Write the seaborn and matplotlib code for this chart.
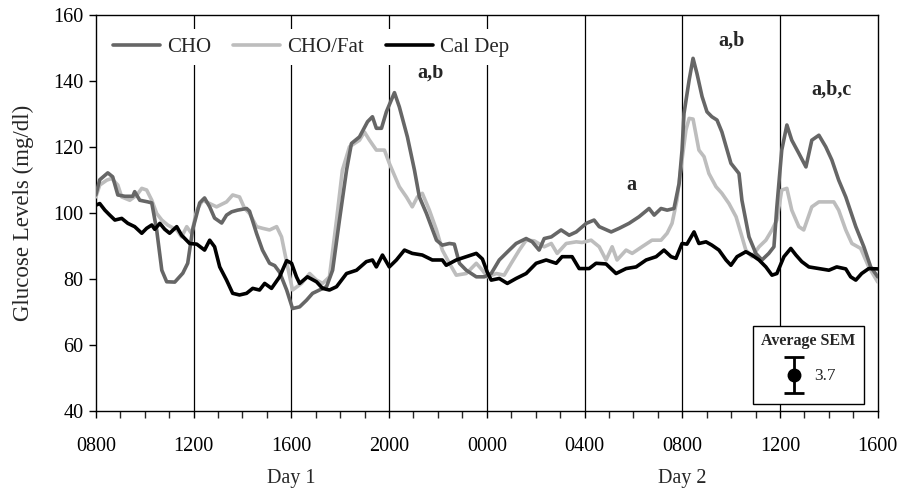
import matplotlib
matplotlib.use("Agg")
import matplotlib.pyplot as plt
import seaborn as sns
import pandas as pd
import numpy as np
from matplotlib.patches import Rectangle

# ---- data (hours after 0800 on Day 1, glucose mg/dl) ----
cho_t = [0.00, 0.16, 0.49, 0.69, 0.90, 1.19, 1.51, 1.59, 1.80, 2.13, 2.29, 2.49, 2.70, 2.90, 3.23,
         3.56, 3.76, 3.96, 4.25, 4.45, 4.66, 4.86, 5.15, 5.35, 5.56, 5.80, 6.17, 6.29, 6.58, 6.82,
         7.11, 7.32, 7.52, 7.81, 8.05, 8.34, 8.62, 8.87, 9.15, 9.44, 9.69, 9.97, 10.26, 10.46,
         10.79, 11.12, 11.32, 11.48, 11.69, 11.89, 12.22, 12.42, 12.75, 13.04, 13.24, 13.53,
         13.94, 14.18, 14.47, 14.67, 14.88, 15.16, 15.57, 15.90, 16.18, 16.51, 16.92, 17.20,
         17.61, 17.86, 18.14, 18.35, 18.64, 19.04, 19.37, 19.66, 20.07, 20.39, 20.60, 21.09,
         21.42, 21.82, 22.23, 22.64, 22.85, 23.13, 23.38, 23.66, 23.87, 23.99, 24.07, 24.28,
         24.44, 24.60, 24.81, 25.01, 25.21, 25.42, 25.62, 25.99, 26.32, 26.44, 26.73, 27.01,
         27.26, 27.54, 27.75, 27.87, 28.07, 28.28, 28.48, 28.77, 29.06, 29.30, 29.59, 29.87,
         30.12, 30.40, 30.69, 31.10, 31.43, 31.71, 32.00]
cho_v = [105.4, 110.0, 112.1, 110.9, 105.4, 105.0, 105.0, 106.4, 103.8, 103.3, 103.0, 94.8, 82.6,
         79.1, 79.0, 81.7, 84.7, 94.8, 103.0, 104.5, 101.8, 98.4, 96.9, 99.3, 100.3, 100.8, 101.3,
         100.5, 93.7, 88.7, 84.7, 84.0, 82.0, 76.6, 71.0, 71.5, 73.5, 75.6, 76.6, 77.6, 82.6, 97.8,
         112.9, 121.0, 123.0, 127.6, 129.1, 125.6, 125.6, 130.6, 136.4, 132.1, 123.0, 112.9, 104.8,
         99.8, 91.7, 90.2, 90.7, 90.5, 84.7, 82.6, 80.6, 80.6, 81.6, 85.7, 88.7, 90.7, 92.2, 91.2,
         88.7, 92.2, 92.7, 94.8, 93.2, 94.2, 96.8, 97.8, 95.8, 94.2, 95.3, 96.8, 98.8, 101.3, 99.3,
         101.3, 100.8, 101.3, 108.9, 119.0, 130.1, 140.2, 146.8, 142.2, 135.2, 130.6, 129.1, 128.1,
         124.5, 115.0, 111.9, 103.8, 92.7, 87.7, 85.7, 87.7, 89.7, 101.8, 119.0, 126.6, 122.0,
         118.0, 113.9, 122.0, 123.5, 120.0, 116.0, 109.9, 104.8, 95.8, 89.7, 83.6, 80.6]

fat_t = [0.00, 0.16, 0.45, 0.65, 0.90, 1.06, 1.39, 1.68, 1.88, 2.08, 2.29, 2.49, 2.70, 2.94, 3.31,
         3.51, 3.72, 3.92, 4.13, 4.37, 4.66, 4.94, 5.35, 5.60, 5.88, 6.09, 6.29, 6.58, 6.82, 7.11,
         7.40, 7.60, 7.81, 8.05, 8.42, 8.75, 9.03, 9.28, 9.56, 9.85, 10.09, 10.38, 10.79, 10.99,
         11.20, 11.48, 11.81, 12.01, 12.42, 12.71, 12.95, 13.16, 13.36, 13.65, 13.94, 14.18,
         14.47, 14.75, 15.16, 15.57, 15.82, 16.02, 16.39, 16.71, 17.00, 17.33, 17.61, 17.94,
         18.35, 18.64, 18.88, 19.25, 19.66, 19.90, 20.27, 20.60, 20.88, 21.13, 21.33, 21.70,
         21.95, 22.35, 22.76, 23.13, 23.38, 23.58, 23.78, 23.95, 24.15, 24.28, 24.44, 24.68,
         24.89, 25.09, 25.38, 25.62, 25.91, 26.20, 26.40, 26.60, 26.85, 27.14, 27.42, 27.67,
         27.87, 28.07, 28.28, 28.48, 28.77, 28.97, 29.30, 29.59, 30.20, 30.40, 30.69, 30.94,
         31.30, 31.63, 32.00]
fat_v = [104.8, 108.4, 109.9, 110.4, 108.4, 104.8, 103.8, 105.4, 107.4, 106.9, 103.8, 99.8, 97.8,
         96.3, 94.8, 92.7, 95.8, 93.7, 100.8, 103.8, 102.8, 101.8, 103.3, 105.4, 104.8, 101.3, 99.8,
         95.8, 95.3, 94.8, 95.8, 92.7, 85.0, 76.6, 78.6, 81.6, 79.6, 78.6, 80.6, 97.8, 112.9, 120.0,
         122.0, 124.5, 122.0, 119.0, 119.0, 115.0, 107.9, 104.8, 101.8, 104.8, 105.9, 100.8, 94.8,
         88.7, 84.7, 81.1, 81.6, 84.7, 82.6, 80.6, 81.6, 81.1, 84.7, 88.7, 91.7, 91.5, 89.7, 90.7,
         87.7, 90.7, 91.2, 91.0, 91.7, 89.7, 85.7, 89.7, 85.7, 88.7, 87.7, 89.7, 91.7, 91.7, 93.8,
         96.8, 103.8, 113.9, 125.1, 128.6, 128.4, 119.0, 117.0, 111.9, 107.9, 105.9, 102.8, 98.8,
         93.8, 88.7, 86.7, 89.7, 91.7, 94.8, 97.8, 106.9, 107.4, 100.8, 95.8, 94.8, 101.8, 103.3,
         103.3, 100.8, 94.8, 90.7, 89.2, 83.6, 79.0]

cal_t = [0.00, 0.16, 0.37, 0.57, 0.78, 1.06, 1.31, 1.59, 1.88, 2.08, 2.29, 2.41, 2.62, 2.82, 3.02,
         3.31, 3.51, 3.84, 4.13, 4.45, 4.66, 4.86, 5.07, 5.35, 5.60, 5.88, 6.17, 6.42, 6.70, 6.91,
         7.19, 7.52, 7.81, 8.01, 8.21, 8.34, 8.66, 9.03, 9.28, 9.56, 9.85, 10.26, 10.67, 11.07,
         11.32, 11.48, 11.73, 12.01, 12.30, 12.63, 12.95, 13.36, 13.77, 14.18, 14.34, 14.75,
         15.16, 15.57, 15.82, 16.02, 16.18, 16.51, 16.84, 17.20, 17.61, 18.02, 18.43, 18.84,
         19.08, 19.49, 19.78, 20.19, 20.47, 20.88, 21.29, 21.70, 22.11, 22.52, 22.93, 23.25,
         23.54, 23.74, 23.99, 24.19, 24.48, 24.68, 24.97, 25.21, 25.50, 25.79, 25.99, 26.24,
         26.60, 26.85, 27.14, 27.42, 27.67, 27.87, 28.16, 28.44, 28.65, 28.89, 29.18, 29.59,
         30.00, 30.32, 30.69, 30.89, 31.10, 31.34, 31.63, 32.00]
cal_v = [102.3, 102.8, 100.8, 99.3, 97.8, 98.3, 96.8, 95.8, 93.8, 95.3, 96.3, 95.0, 96.8, 95.0,
         93.8, 95.8, 93.2, 90.7, 90.5, 88.7, 91.7, 89.7, 83.6, 79.6, 75.6, 75.1, 75.6, 77.1, 76.6,
         78.6, 77.1, 80.6, 85.5, 84.7, 80.6, 78.6, 80.6, 79.1, 77.1, 76.6, 77.6, 81.6, 82.6, 85.2,
         85.7, 83.6, 87.2, 83.6, 85.7, 88.7, 87.7, 87.2, 85.7, 85.7, 84.1, 85.7, 86.7, 87.7, 86.0,
         82.0, 79.6, 80.1, 78.6, 80.1, 81.6, 84.7, 85.7, 84.7, 86.7, 86.7, 83.1, 83.1, 84.7, 84.5,
         81.6, 83.1, 83.6, 85.7, 86.7, 88.7, 86.7, 86.2, 90.7, 90.5, 94.2, 90.7, 91.2, 90.2, 88.7,
         85.7, 84.1, 86.7, 88.2, 87.2, 85.7, 83.6, 81.1, 81.6, 86.7, 89.2, 87.2, 85.2, 83.6, 83.1,
         82.6, 83.6, 83.0, 80.6, 79.6, 81.6, 83.1, 83.0]

series_names = ["CHO", "CHO/Fat", "Cal Dep"]
tick_hours = [0, 4, 8, 12, 16, 20, 24, 28, 32]
tick_labels = ["0800", "1200", "1600", "2000", "0000", "0400", "0800", "1200", "1600"]
day_labels = ["Day 1", "Day 2"]
day_hours = [8, 24]
annot_text = ["a,b", "a", "a,b", "a,b,c"]
annot_h = [13.7, 21.9, 26.0, 30.1]
annot_v = [142.6, 108.4, 152.3, 137.2]
sem_value = 3.7

df = pd.concat([
    pd.DataFrame({"hour": fat_t, "glucose": fat_v, "diet": "CHO/Fat"}),
    pd.DataFrame({"hour": cho_t, "glucose": cho_v, "diet": "CHO"}),
    pd.DataFrame({"hour": cal_t, "glucose": cal_v, "diet": "Cal Dep"}),
], ignore_index=True)

sns.set_style("ticks")
plt.rcParams["font.family"] = ["Liberation Serif", "DejaVu Serif"]

fig = plt.figure(figsize=(9.04, 4.92), dpi=100)
ax = fig.add_axes([0.106, 0.165, 0.865, 0.805])

colors = {"CHO": "#666666", "CHO/Fat": "#bdbdbd", "Cal Dep": "#000000"}
for h in tick_hours[1:-1]:
    ax.axvline(h, color="black", lw=0.9, zorder=1)

for name in ["CHO/Fat", "CHO", "Cal Dep"]:
    sub = df[df["diet"] == name]
    sns.lineplot(data=sub, x="hour", y="glucose", color=colors[name], lw=2.6,
                 estimator=None, sort=False, ax=ax, legend=False, label=name, zorder=3)

ax.set_xlim(0, 32)
ax.set_ylim(40, 160)
ax.set_xticks(tick_hours)
ax.set_xticklabels(tick_labels)
ax.set_xticks(np.arange(0, 33, 1), minor=True)
ax.set_yticks(np.arange(40, 161, 20))
ax.tick_params(axis="both", which="major", direction="out", length=5, width=1,
               labelsize=14.5, colors="black", pad=14)
ax.tick_params(axis="y", pad=4)
ax.tick_params(axis="x", which="minor", direction="out", length=5, width=1)
for s in ax.spines.values():
    s.set_visible(True)
    s.set_color("black")
    s.set_linewidth(1)
ax.set_xlabel("")
ax.set_ylabel("Glucose Levels (mg/dl)", fontsize=16.5, labelpad=14)

for txt, h in zip(day_labels, day_hours):
    ax.text(h, -0.17, txt, transform=ax.get_xaxis_transform(), ha="center", va="center",
            fontsize=14.5)

for txt, h, v in zip(annot_text, annot_h, annot_v):
    ax.text(h, v, txt, ha="center", va="center", fontsize=14.5, fontweight="bold", zorder=5)

# legend
handles = {l.get_label(): l for l in ax.get_lines() if l.get_label() in series_names}
leg = ax.legend([handles[n] for n in series_names], series_names, loc="upper left",
                bbox_to_anchor=(0.003, 0.98), ncol=3, frameon=True, fontsize=15,
                handlelength=2.25, columnspacing=1.05, handletextpad=0.35, borderaxespad=0.3)
leg.get_frame().set_facecolor("white")
leg.get_frame().set_edgecolor("none")
leg.get_frame().set_alpha(1)
leg.set_zorder(6)

# SEM box
box = Rectangle((0.840, 0.017), 0.143, 0.197, transform=ax.transAxes, facecolor="white",
                edgecolor="black", lw=1, zorder=6)
ax.add_patch(box)
ax.text(0.9115, 0.176, "Average SEM", transform=ax.transAxes, ha="center", va="center",
        fontsize=11.5, fontweight="bold", zorder=7)
ax.errorbar([28.57], [50.8], yerr=[[5.4], [5.4]], fmt="o", color="black", ms=9,
            capsize=7, elinewidth=2, capthick=2, zorder=7)
ax.text(29.4, 50.6, f"{sem_value}", ha="left", va="center", fontsize=12.5, zorder=7)

fig.savefig("out.png", dpi=100)
